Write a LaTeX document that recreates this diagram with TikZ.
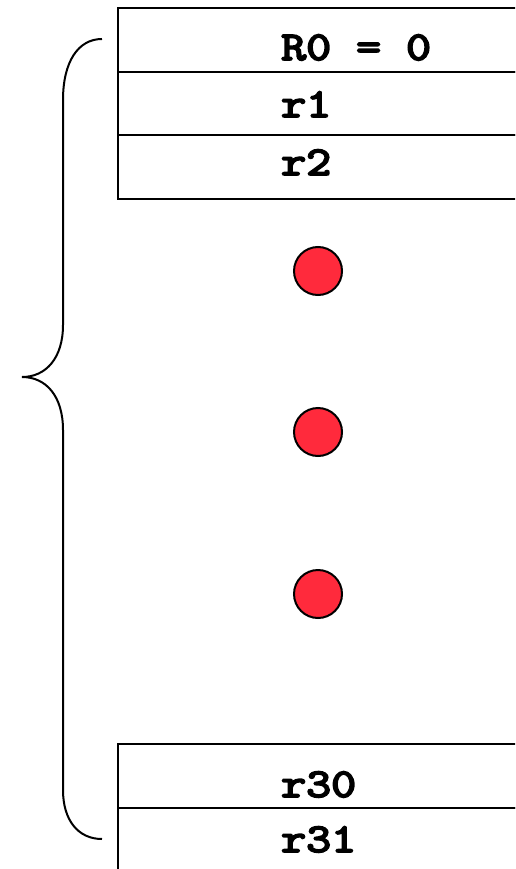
\documentclass[tikz,border=0pt]{standalone}
\usepackage{fontspec}
\newfontfamily\regfont{lmmono10-regular.otf}[FakeBold=4]
\usetikzlibrary{positioning}
\definecolor{dotRed}{HTML}{FF2A3C}

\begin{document}
\begin{tikzpicture}[x=1pt, y=-1pt,
  reg/.style={rectangle, draw=black, line width=2pt, minimum width=460pt, minimum height=63.7pt, anchor=north west, inner sep=0pt, outer sep=0pt},
  lbl/.style={anchor=base west, inner sep=0pt, xscale=1.16, font=\fontsize{41}{41}\selectfont\regfont},
  dot/.style={circle, draw=black, line width=2pt, fill=dotRed, minimum size=48pt, inner sep=0pt}]
  \useasboundingbox (0,0) rectangle (515,869);
  \clip (0,0) rectangle (515,869);
  % register rows, top
  \node[reg](b0) at (118,8) {};
  \node[reg, below=0pt of b0](b1) {};
  \node[reg, below=0pt of b1](b2) {};
  % register rows, bottom
  \node[reg](b30) at (118,744) {};
  \node[reg, below=0pt of b30](b31) {};
  \node[lbl](t0) at (281,60) {R0 = 0};
  \node[lbl](t1) at (281,117) {r1};
  \node[lbl](t2) at (281,175) {r2};
  \node[lbl](t30) at (281,797) {r30};
  \node[lbl](t31) at (281,852) {r31};
  % dots
  \node[dot](d1) at (318,271) {};
  \node[dot](d2) at (318,432) {};
  \node[dot](d3) at (318,594) {};
  % brace
  \coordinate (bt) at (102,39);
  \coordinate (bm) at (22,377);
  \coordinate (bb) at (102,839);
  \draw[line width=2pt] (bt) .. controls (78,39) and (63,62) .. (63,100) -- (63,325)
    .. controls (63,358) and (46,377) .. (bm) .. controls (46,377) and (63,396) .. (63,430)
    -- (63,790) .. controls (63,820) and (78,839) .. (bb);
\end{tikzpicture}
\end{document}
